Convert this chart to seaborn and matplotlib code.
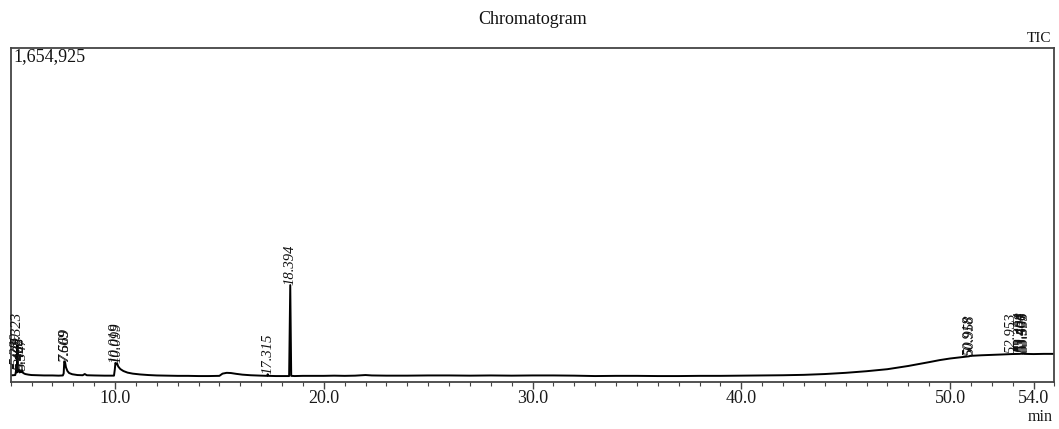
import matplotlib
matplotlib.use('Agg')
import matplotlib.pyplot as plt
import seaborn as sns
import pandas as pd
from matplotlib.ticker import MultipleLocator

# ---- data (time in min, intensity in counts) ----
times = [5.00, 5.10, 5.22, 5.27, 5.289, 5.30, 5.315, 5.323, 5.335, 5.37, 5.402, 5.43,
         5.468, 5.50, 5.547, 5.60, 5.70, 5.85, 6.00, 6.30, 6.60, 7.00, 7.30, 7.50,
         7.54, 7.569, 7.609, 7.65, 7.72, 7.80, 7.95, 8.20, 8.45, 8.55, 8.65, 9.00,
         9.50, 9.95, 9.99, 10.019, 10.06, 10.099, 10.15, 10.25, 10.40, 10.60, 10.85,
         11.20, 11.60, 12.00, 12.50, 13.00, 13.50, 14.00, 14.50, 15.00, 15.15, 15.35,
         15.55, 15.80, 16.10, 16.50, 17.00, 17.28, 17.315, 17.34, 17.70, 18.00, 18.34,
         18.394, 18.44, 18.60, 19.00, 19.50, 20.00, 20.50, 21.00, 21.50, 22.00, 22.30,
         23.00, 24.00, 25.00, 26.00, 27.00, 28.00, 29.00, 30.00, 31.00, 32.00, 33.00,
         34.00, 35.00, 36.00, 37.00, 38.00, 39.00, 40.00, 41.00, 42.00, 43.00, 44.00,
         45.00, 46.00, 47.00, 48.00, 49.00, 49.50, 50.00, 50.50, 50.918, 50.958, 51.50,
         52.00, 52.50, 52.953, 53.354, 53.408, 53.461, 53.506, 53.553, 54.00, 54.50,
         55.00]
intensity = [31000, 31000, 32000, 60000, 82000, 45000, 60000, 180000, 60000, 50000, 58000, 45000,
             55000, 46000, 55000, 42000, 37000, 34000, 32000, 31000, 30000, 30000, 29000, 30000,
             40000, 100000, 95000, 70000, 52000, 42000, 36000, 32000, 31000, 37000, 31000, 30000,
             29000, 29000, 60000, 92000, 85000, 90000, 75000, 62000, 52000, 44000, 39000,
             35000, 32000, 30000, 29000, 28000, 28000, 27000, 27000, 28000, 39000, 43000,
             42000, 38000, 34000, 31000, 29000, 28000, 36000, 28000, 27000, 27000, 27000,
             478000, 28000, 27000, 28000, 28000, 28000, 29000, 28000, 29000, 32000, 30000,
             29000, 29000, 30000, 30000, 29000, 30000, 29000, 30000, 30000, 29000, 27000,
             28000, 28000, 27000, 27000, 28000, 28000, 29000, 30000, 31000, 33000, 37000,
             43000, 51000, 61000, 77000, 96000, 106000, 114000, 120000, 125000, 127000, 130000,
             132000, 134000, 136000, 137000, 138000, 137000, 138000, 137000, 136000, 137000,
             137000]

peak_times = [5.289, 5.323, 5.402, 5.468, 5.547, 7.569, 7.609, 10.019, 10.099,
              17.315, 18.394, 50.918, 50.958, 52.953, 53.354, 53.408, 53.461, 53.506, 53.553]
peak_labels = ["5.289", "5.323", "5.402", "5.468", "5.547", "7.569", "7.609", "10.019", "10.099",
               "17.315", "18.394", "50.918", "50.958", "52.953", "53.354", "53.408", "53.461",
               "53.506", "53.553"]
peak_heights = [82000, 180000, 58000, 56000, 56000, 100000, 96000, 92000, 90000,
                38000, 478000, 128000, 130000, 140000, 145000, 145000, 145000, 145000, 145000]

major_ticks = [10, 20, 30, 40, 50, 54]
major_labels = ["10.0", "20.0", "30.0", "40.0", "50.0", "54.0"]
y_max = 1654925
y_max_label = "1,654,925"

# ---- plotting ----
sns.set_style('white')
plt.rcParams['font.family'] = ['Liberation Serif', 'DejaVu Serif']

W, H = 1059, 429
fig = plt.figure(figsize=(W / 100, H / 100), dpi=100)
ax = fig.add_axes([10.65 / W, 1 - 381.5 / H, (1054.4 - 10.65) / W, (381.5 - 47.7) / H])

df = pd.DataFrame({'t': times, 'i': intensity})
sns.lineplot(data=df, x='t', y='i', ax=ax, color='black', linewidth=1.4,
             estimator=None, sort=False)

ax.set_xlim(5.0, 55.0)
ax.set_ylim(0, y_max)
ax.set_xlabel('')
ax.set_ylabel('')
ax.set_yticks([])
ax.set_xticks(major_ticks)
ax.set_xticklabels(major_labels, fontsize=13, color='#1a1a1a')
ax.xaxis.set_minor_locator(MultipleLocator(1))
ax.tick_params(axis='x', which='major', direction='out', length=5, width=1.0,
               color='#444444', pad=1.2, bottom=True)
ax.tick_params(axis='x', which='minor', direction='out', length=2.8, width=0.8,
               color='#444444', bottom=True)
for s in ax.spines.values():
    s.set_color('#444444')
    s.set_linewidth(1.3)

for t, lab, h in zip(peak_times, peak_labels, peak_heights):
    ax.text(t, h, lab, rotation=90, ha='center', va='bottom', fontsize=10.5,
            style='italic', color='#111111')

fig.text(13 / W, 1 - 48 / H, y_max_label, ha='left', va='top', fontsize=13, color='#111111')
fig.text(533 / W, 1 - 19 / H, 'Chromatogram', ha='center', va='center', fontsize=13, color='#111111')
fig.text(1051 / W, 1 - 39 / H, 'TIC', ha='right', va='center', fontsize=11, color='#111111')
fig.text(1053 / W, 1 - 421 / H, 'min', ha='right', va='baseline', fontsize=11.5, color='#111111')

fig.savefig('out.png', dpi=100)
